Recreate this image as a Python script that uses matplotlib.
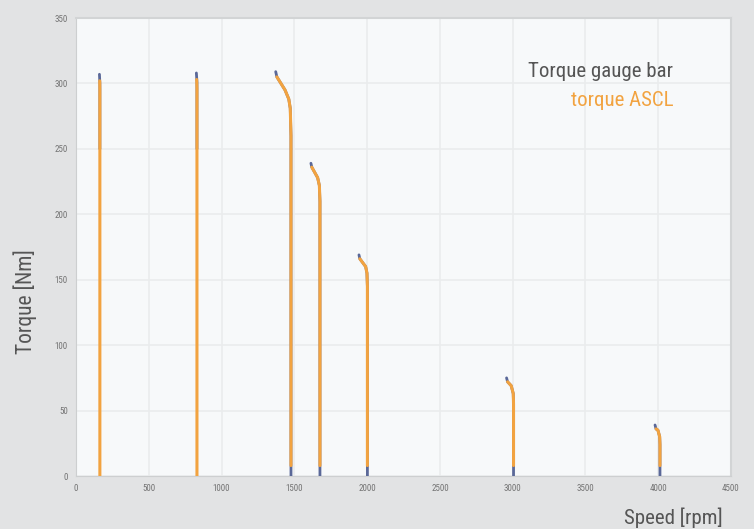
import matplotlib
matplotlib.use("Agg")
import matplotlib.pyplot as plt
import numpy as np

# torque ASCL curves (speed rpm, torque Nm), one list per load step
ascl_speed = [
    [163, 164, 164],
    [829, 831, 831],
    [1380, 1408, 1436, 1462, 1472, 1477, 1477],
    [1620, 1640, 1660, 1672, 1676, 1676],
    [1950, 1970, 1990, 1999, 2002, 2002],
    [2965, 2990, 3004, 3006, 3006],
    [3985, 3998, 4010, 4012, 4012],
]
ascl_torque = [
    [302, 295, 0],
    [303, 296, 0],
    [305, 300, 295, 288, 281, 260, 8],
    [236, 232, 228, 222, 210, 8],
    [166, 163, 160, 155, 145, 8],
    [72, 69, 63, 55, 8],
    [36, 35, 30, 24, 8],
]
# torque gauge bar follows the same path, its ends show beneath ASCL
gauge_speed = [
    [161, 164, 164],
    [827, 831, 831],
    [1372, 1380, 1408, 1436, 1462, 1472, 1477, 1477],
    [1614, 1620, 1640, 1660, 1672, 1676, 1676],
    [1944, 1950, 1970, 1990, 1999, 2002, 2002],
    [2958, 2965, 2990, 3004, 3006, 3006],
    [3978, 3985, 3998, 4010, 4012, 4012],
]
gauge_torque = [
    [307, 300, 250],
    [308, 301, 250],
    [309, 305, 300, 295, 288, 281, 260, 0],
    [239, 236, 232, 228, 222, 210, 0],
    [169, 166, 163, 160, 155, 145, 0],
    [75, 72, 69, 63, 55, 0],
    [39, 36, 35, 30, 24, 0],
]

xticks = np.arange(0, 4501, 500)
yticks = np.arange(0, 351, 50)

fam = ['Roboto Condensed', 'DejaVu Sans']
orange = '#f2a340'
blue = '#5a6898'

fig = plt.figure(figsize=(7.54, 5.29), dpi=100, facecolor='#e2e3e4')
ax = fig.add_axes([76 / 754, 53 / 529, 655 / 754, 458 / 529])
ax.set_facecolor('#f7f9fa')

for xs, ys in zip(gauge_speed, gauge_torque):
    ax.plot(xs, ys, color=blue, lw=2.0, solid_capstyle='round', zorder=3)
for xs, ys in zip(ascl_speed, ascl_torque):
    ax.plot(xs, ys, color=orange, lw=2.2, solid_capstyle='round', zorder=4)

ax.set_xlim(0, 4500)
ax.set_ylim(0, 350)
ax.set_xticks(xticks)
ax.set_yticks(yticks)
ax.grid(True, color='#eaeced', lw=1.2)
ax.set_axisbelow(True)
ax.tick_params(length=0, labelsize=6.5, labelcolor='#747474', pad=6)
for lab in ax.get_xticklabels() + ax.get_yticklabels():
    lab.set_family(fam)
    lab.set_stretch('condensed')
for s in ['top', 'right']:
    ax.spines[s].set_color('#d2d4d5')
    ax.spines[s].set_linewidth(1.5)
for s in ['left', 'bottom']:
    ax.spines[s].set_color('#cdcfd0')

kw = dict(fontsize=15, family=fam, stretch='condensed')
fig.text(0.033, 0.43, 'Torque [Nm]', rotation=90, ha='center', va='center',
         color='#555555', fontsize=15.5, family=fam, stretch='condensed')
fig.text(0.958, 0.022, 'Speed [rpm]', ha='right', va='center',
         color='#555555', **kw)
fig.text(0.893, 0.864, 'Torque gauge bar', ha='right', va='center',
         color='#555555', **kw)
fig.text(0.893, 0.810, 'torque ASCL', ha='right', va='center',
         color=orange, **kw)

fig.savefig('out.png', dpi=100, facecolor=fig.get_facecolor())
